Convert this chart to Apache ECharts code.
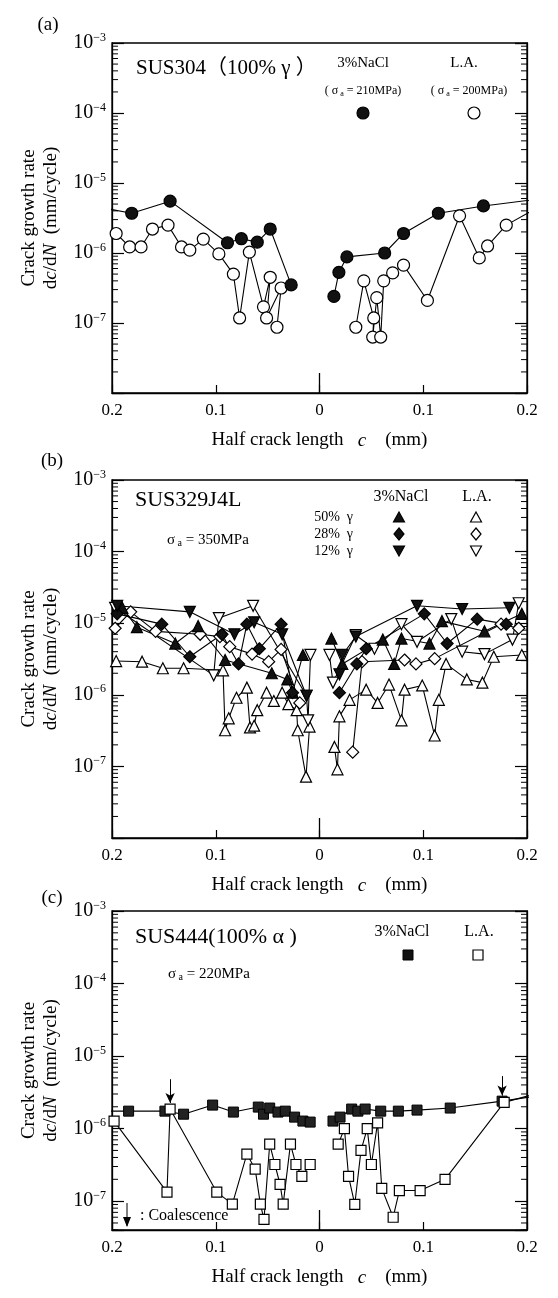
<!DOCTYPE html>
<html>
<head>
<meta charset="utf-8">
<script src="https://cdn.jsdelivr.net/npm/echarts@6/dist/echarts.min.js"></script>
<style>
html,body{margin:0;padding:0;background:#fff;}
#main{width:558px;height:1298px;}
</style>
</head>
<body>
<div id="main"></div>
<script>
// axes
const xMin = -0.2, xMax = 0.2, xStep = 0.1;
const yMax = 1e-3;
const yMins = [1e-8, 1e-8, 4e-8];
const minorDecades = [-8, -7, -6, -5, -4];
const minorMult = [2, 3, 4, 5, 6, 7, 8, 9];

// (a) SUS304 [c (mm, left negative), dc/dN]
const aNaclLeft = [[-0.215,4.6e-6],[-0.181,3.7e-6],[-0.144,5.5e-6],[-0.0887,1.4e-6],[-0.0753,1.6e-6],[-0.060,1.43e-6],[-0.0475,2.2e-6],[-0.0273,3.5e-7]];
const aLaLeft = [[-0.196,1.9e-6],[-0.183,1.22e-6],[-0.172,1.22e-6],[-0.161,2.2e-6],[-0.146,2.5e-6],[-0.133,1.22e-6],[-0.125,1.1e-6],[-0.112,1.58e-6],[-0.097,9.7e-7],[-0.083,5.0e-7],[-0.077,1.18e-7],[-0.0676,1.03e-6],[-0.054,1.7e-7],[-0.0475,4.5e-7],[-0.051,1.18e-7],[-0.037,3.16e-7],[-0.041,8.7e-8]];
const aNaclRight = [[0.0139,2.4e-7],[0.0187,5.3e-7],[0.0264,8.8e-7],[0.0628,1.0e-6],[0.081,1.9e-6],[0.1146,3.7e-6],[0.158,4.7e-6],[0.215,6.0e-6]];
const aLaRight = [[0.035,8.7e-8],[0.0427,4.0e-7],[0.0523,1.18e-7],[0.0513,6.3e-8],[0.0552,2.3e-7],[0.059,6.3e-8],[0.0619,4.0e-7],[0.0705,5.2e-7],[0.081,6.7e-7],[0.104,2.1e-7],[0.135,3.4e-6],[0.154,8.5e-7],[0.162,1.26e-6],[0.18,2.5e-6],[0.215,4.9e-6]];

// (b) SUS329J4L
const bNacl50L = [[-0.190,1.64e-5],[-0.176,8.8e-6],[-0.139,5.2e-6],[-0.117,9.1e-6],[-0.091,3.06e-6],[-0.046,2.0e-6],[-0.031,1.64e-6],[-0.026,1.07e-6],[-0.016,3.6e-6]];
const bNacl50R = [[0.0115,6.1e-6],[0.022,2.7e-6],[0.061,5.9e-6],[0.072,2.7e-6],[0.079,6.1e-6],[0.106,5.2e-6],[0.118,1.07e-5],[0.159,7.7e-6],[0.195,1.35e-5]];
const bNacl28L = [[-0.195,1.35e-5],[-0.152,9.7e-6],[-0.125,3.4e-6],[-0.094,7.0e-6],[-0.078,2.7e-6],[-0.070,9.7e-6],[-0.058,4.4e-6],[-0.037,9.7e-6],[-0.026,1.07e-6]];
const bNacl28R = [[0.0192,1.07e-6],[0.036,2.7e-6],[0.045,4.4e-6],[0.101,1.35e-5],[0.123,5.2e-6],[0.152,1.14e-5],[0.18,9.7e-6]];
const bNacl12L = [[-0.195,1.75e-5],[-0.125,1.44e-5],[-0.082,7.0e-6],[-0.063,1.03e-5],[-0.036,7.0e-6],[-0.0125,9.7e-7]];
const bNacl12R = [[0.0192,1.93e-6],[0.022,3.6e-6],[0.035,6.5e-6],[0.094,1.75e-5],[0.1375,1.58e-5],[0.183,1.64e-5]];
const bLa50L = [[-0.196,2.96e-6],[-0.171,2.9e-6],[-0.151,2.35e-6],[-0.131,2.35e-6],[-0.093,2.2e-6],[-0.091,3.2e-7],[-0.0875,4.7e-7],[-0.080,9.1e-7],[-0.070,1.26e-6],[-0.067,3.5e-7],[-0.063,3.7e-7],[-0.060,6.1e-7],[-0.051,1.07e-6],[-0.044,8.2e-7],[-0.036,1.07e-6],[-0.030,7.4e-7],[-0.022,6.1e-7],[-0.021,3.2e-7],[-0.013,7.2e-8],[-0.0096,3.6e-7]];
const bLa50R = [[0.0144,1.87e-7],[0.0173,9.1e-8],[0.0192,5.0e-7],[0.029,8.5e-7],[0.045,1.18e-6],[0.056,7.7e-7],[0.067,1.39e-6],[0.079,4.4e-7],[0.082,1.18e-6],[0.099,1.35e-6],[0.111,2.7e-7],[0.115,8.5e-7],[0.122,2.7e-6],[0.142,1.64e-6],[0.157,1.48e-6],[0.168,3.4e-6],[0.195,3.6e-6]];
const bLa28L = [[-0.197,8.5e-6],[-0.182,1.44e-5],[-0.158,7.7e-6],[-0.115,7.0e-6],[-0.096,6.5e-6],[-0.0865,4.7e-6],[-0.065,3.7e-6],[-0.049,2.9e-6],[-0.037,4.3e-6],[-0.019,7.7e-7]];
const bLa28R = [[0.032,1.58e-7],[0.041,2.9e-6],[0.082,3.06e-6],[0.093,2.7e-6],[0.111,3.2e-6],[0.175,9.7e-6],[0.192,8.5e-6]];
const bLa12L = [[-0.197,1.64e-5],[-0.102,1.87e-6],[-0.097,1.18e-5],[-0.064,1.75e-5],[-0.0125,9.7e-7],[-0.011,4.4e-7],[-0.0087,3.6e-6]];
const bLa12R = [[0.0096,3.6e-6],[0.013,1.48e-6],[0.035,6.8e-6],[0.053,4.4e-6],[0.079,9.7e-6],[0.094,5.5e-6],[0.127,1.14e-5],[0.1375,4.0e-6],[0.159,3.7e-6],[0.186,5.9e-6],[0.192,1.9e-5]];

// (c) SUS444
const cNaclLeft = [[-0.215,1.74e-6],[-0.184,1.74e-6],[-0.149,1.74e-6],[-0.131,1.58e-6],[-0.103,2.11e-6],[-0.083,1.69e-6],[-0.059,1.98e-6],[-0.054,1.58e-6],[-0.048,1.92e-6],[-0.040,1.69e-6],[-0.033,1.74e-6],[-0.024,1.44e-6],[-0.016,1.27e-6],[-0.009,1.23e-6]];
const cNaclRight = [[0.013,1.27e-6],[0.0198,1.44e-6],[0.031,1.86e-6],[0.037,1.74e-6],[0.044,1.86e-6],[0.059,1.74e-6],[0.076,1.74e-6],[0.094,1.8e-6],[0.126,1.92e-6],[0.176,2.39e-6],[0.215,2.9e-6]];
const cLaLeft = [[-0.198,1.27e-6],[-0.147,1.33e-7],[-0.144,1.86e-6],[-0.099,1.33e-7],[-0.084,9.1e-8],[-0.070,4.45e-7],[-0.062,2.76e-7],[-0.057,9.1e-8],[-0.0535,5.6e-8],[-0.048,6.1e-7],[-0.043,3.2e-7],[-0.038,1.7e-7],[-0.035,9.1e-8],[-0.028,6.1e-7],[-0.0227,3.2e-7],[-0.017,2.2e-7],[-0.009,3.2e-7]];
const cLaRight = [[0.018,6.1e-7],[0.024,1.0e-6],[0.028,2.2e-7],[0.034,9.0e-8],[0.040,5.0e-7],[0.046,1.0e-6],[0.050,3.2e-7],[0.056,1.2e-6],[0.060,1.5e-7],[0.071,6.0e-8],[0.077,1.4e-7],[0.097,1.4e-7],[0.121,2.0e-7],[0.178,2.3e-6],[0.215,3.2e-6]];
const cArrows = [[-0.144, 4.8e-6, 2.25e-6], [0.176, 5.3e-6, 2.85e-6]];

const serif = '"Liberation Serif", "Noto Sans CJK SC", serif';
const grids = [
  {left: 112, top: 43, width: 415, height: 350},
  {left: 112, top: 480, width: 415, height: 358},
  {left: 112, top: 911, width: 415, height: 319}
];

function xAxisOf(i) {
  return {
    type: 'value', gridIndex: i, min: xMin, max: xMax, interval: xStep,
    name: '{t|Half crack length}{i|   c}{t|    (mm)}',
    nameLocation: 'middle', nameGap: 38,
    nameTextStyle: {rich: {t: {fontFamily: serif, fontSize: 19, color: '#000'}, i: {fontFamily: serif, fontSize: 19, fontStyle: 'italic', color: '#000'}}},
    axisLine: {show: true, onZero: false, lineStyle: {color: '#000', width: 1.3}},
    axisTick: {show: true, inside: true, length: 8, lineStyle: {color: '#000', width: 1.2}},
    axisLabel: {fontFamily: serif, fontSize: 17, color: '#000', margin: 9,
      formatter: v => (Math.abs(v) < 1e-9 ? '0' : String(Math.round(Math.abs(v) * 10) / 10))},
    splitLine: {show: false}
  };
}
function yAxisOf(i, right) {
  return {
    type: 'log', logBase: 10, gridIndex: i, min: yMins[i], max: yMax, position: right ? 'right' : 'left',
    name: right ? '' : '{t|Crack growth rate}\n{t|d}{i|c}{t|/d}{i|N}{t|  (mm/cycle)}',
    nameLocation: 'middle', nameGap: 50, nameRotate: 90,
    nameTextStyle: {lineHeight: 22, rich: {t: {fontFamily: serif, fontSize: 19, color: '#000', lineHeight: 22}, i: {fontFamily: serif, fontSize: 19, fontStyle: 'italic', color: '#000', lineHeight: 22}}},
    axisLine: {show: true, onZero: false, lineStyle: {color: '#000', width: 1.3}},
    axisTick: {show: true, inside: true, length: 12, lineStyle: {color: '#000', width: 1.2}},
    axisLabel: {show: !right, margin: 6, color: '#000',
      formatter: v => { const l = Math.log10(v); const p = Math.round(l); return (Math.abs(l - p) > 1e-6 || p <= -8) ? '' : '{b|10}{s|\u2212' + (-p) + '}'; },
      rich: {b: {fontFamily: serif, fontSize: 20, color: '#000'}, s: {fontFamily: serif, fontSize: 12, color: '#000', padding: [0, 0, 11, 0]}}},
    splitLine: {show: false}
  };
}
function lineSeries(i, data, symbol, filled, extra) {
  return Object.assign({
    type: 'line', xAxisIndex: i, yAxisIndex: i * 2, data: data, clip: true,
    symbol: symbol, symbolSize: 11, showSymbol: true,
    lineStyle: {color: '#000', width: 1.1},
    itemStyle: {color: filled ? '#111' : '#fff', borderColor: '#000', borderWidth: 1.2},
    emphasis: {disabled: true}, animation: false
  }, extra || {});
}
function minorTicks(i) {
  return {
    type: 'custom', xAxisIndex: i, yAxisIndex: i * 2, data: [[0, 1e-5]], silent: true, animation: false,
    renderItem: function (params, api) {
      const cs = params.coordSys;
      const kids = [];
      minorDecades.forEach(d => minorMult.forEach(m => {
        const v = m * Math.pow(10, d);
        if (v < yMins[i]) return;
        const y = api.coord([0, v])[1];
        kids.push({type: 'line', shape: {x1: cs.x, y1: y, x2: cs.x + 6, y2: y}, style: {stroke: '#000', lineWidth: 1}});
        kids.push({type: 'line', shape: {x1: cs.x + cs.width, y1: y, x2: cs.x + cs.width - 6, y2: y}, style: {stroke: '#000', lineWidth: 1}});
      }));
      // long centre tick at c = 0
      const b = api.coord([0, yMins[i]]);
      kids.push({type: 'line', shape: {x1: b[0], y1: b[1], x2: b[0], y2: b[1] - 20}, style: {stroke: '#000', lineWidth: 1.3}});
      return {type: 'group', children: kids};
    }
  };
}

const sqFill = {color: '#222', borderColor: '#000', borderWidth: 1};
const series = [
  minorTicks(0), minorTicks(1), minorTicks(2),
  lineSeries(0, aLaLeft, 'circle', false, {symbolSize: 12}), lineSeries(0, aLaRight, 'circle', false, {symbolSize: 12}),
  lineSeries(0, aNaclLeft, 'circle', true, {symbolSize: 12}), lineSeries(0, aNaclRight, 'circle', true, {symbolSize: 12}),

  lineSeries(1, bLa50L, 'triangle', false), lineSeries(1, bLa50R, 'triangle', false),
  lineSeries(1, bLa28L, 'diamond', false, {symbolSize: 12}), lineSeries(1, bLa28R, 'diamond', false, {symbolSize: 12}),
  lineSeries(1, bLa12L, 'triangle', false, {symbolRotate: 180}), lineSeries(1, bLa12R, 'triangle', false, {symbolRotate: 180}),
  lineSeries(1, bNacl50L, 'triangle', true), lineSeries(1, bNacl50R, 'triangle', true),
  lineSeries(1, bNacl28L, 'diamond', true, {symbolSize: 12}), lineSeries(1, bNacl28R, 'diamond', true, {symbolSize: 12}),
  lineSeries(1, bNacl12L, 'triangle', true, {symbolRotate: 180}), lineSeries(1, bNacl12R, 'triangle', true, {symbolRotate: 180}),

  lineSeries(2, cNaclLeft, 'rect', true, {symbolSize: 10, itemStyle: sqFill}),
  lineSeries(2, cNaclRight, 'rect', true, {symbolSize: 10, itemStyle: sqFill}),
  lineSeries(2, cLaLeft, 'rect', false, {symbolSize: 10}),
  lineSeries(2, cLaRight, 'rect', false, {symbolSize: 10,
    markLine: {silent: true, symbol: ['none', 'arrow'], symbolSize: [7, 10], label: {show: false},
      lineStyle: {color: '#000', width: 1, type: 'solid'}, animation: false,
      data: cArrows.map(a => [{coord: [a[0], a[1]]}, {coord: [a[0], a[2]]}])}})
];

function txt(x, y, text, size, align, rich) {
  return {type: 'text', x: x, y: y, z: 100, style: {text: text, font: size + 'px ' + serif, fill: '#000',
    textAlign: align || 'left', textVerticalAlign: 'middle', rich: rich}};
}
const subRich = {g: {fontFamily: serif, fontSize: 15, fill: '#000'}, s: {fontFamily: serif, fontSize: 10, fill: '#000', padding: [7, 0, 0, 0]}};
const subRichSm = {g: {fontFamily: serif, fontSize: 12, fill: '#000'}, s: {fontFamily: serif, fontSize: 8, fill: '#000', padding: [6, 0, 0, 0]}};

const graphic = [
  txt(48, 25, '(a)', 19, 'center'), txt(52, 461, '(b)', 19, 'center'), txt(52, 898, '(c)', 19, 'center'),
  // (a)
  txt(136, 68, 'SUS304（100% γ ）', 21),
  txt(363, 63, '3%NaCl', 15, 'center'), txt(464, 63, 'L.A.', 15, 'center'),
  txt(363, 91, '{g|( σ}{s| a}{g| = 210MPa)}', 12, 'center', subRichSm),
  txt(469, 91, '{g|( σ}{s| a}{g| = 200MPa)}', 12, 'center', subRichSm),
  {type: 'circle', z: 100, shape: {cx: 363, cy: 113, r: 6}, style: {fill: '#111', stroke: '#000', lineWidth: 1.2}},
  {type: 'circle', z: 100, shape: {cx: 474, cy: 113, r: 6}, style: {fill: '#fff', stroke: '#000', lineWidth: 1.2}},
  // (b)
  txt(135, 500, 'SUS329J4L', 22),
  txt(167, 540, '{g|σ}{s| a}{g| = 350MPa}', 15, 'left', subRich),
  txt(401, 497, '3%NaCl', 16, 'center'), txt(477, 497, 'L.A.', 16, 'center'),
  txt(353, 517, '50%  γ', 14, 'right'), txt(353, 534, '28%  γ', 14, 'right'), txt(353, 551, '12%  γ', 14, 'right'),
  // (c)
  txt(135, 937, 'SUS444(100% α )', 22),
  txt(168, 974, '{g|σ}{s| a}{g| = 220MPa}', 15, 'left', subRich),
  txt(402, 932, '3%NaCl', 16, 'center'), txt(479, 932, 'L.A.', 16, 'center'),
  {type: 'rect', z: 100, shape: {x: 403, y: 950, width: 10, height: 10}, style: {fill: '#111', stroke: '#000', lineWidth: 1}},
  {type: 'rect', z: 100, shape: {x: 473, y: 950, width: 10, height: 10}, style: {fill: '#fff', stroke: '#000', lineWidth: 1.2}},
  txt(140, 1216, ': Coalescence', 16),
  {type: 'line', z: 100, shape: {x1: 127, y1: 1203, x2: 127, y2: 1226}, style: {stroke: '#000', lineWidth: 1}},
  {type: 'polygon', z: 100, shape: {points: [[123, 1217], [131, 1217], [127, 1227]]}, style: {fill: '#000'}}
];
// legend markers for (b)
const bLegendSyms = [
  [399, 517, 'triangle', true, 0], [399, 534, 'diamond', true, 0], [399, 551, 'triangle', true, 180],
  [476, 517, 'triangle', false, 0], [476, 534, 'diamond', false, 0], [476, 551, 'triangle', false, 180]
];
bLegendSyms.forEach(s => {
  let pts;
  if (s[2] === 'diamond') pts = [[s[0], s[1] - 6], [s[0] + 5, s[1]], [s[0], s[1] + 6], [s[0] - 5, s[1]]];
  else if (s[4] === 0) pts = [[s[0], s[1] - 5], [s[0] + 5.5, s[1] + 5], [s[0] - 5.5, s[1] + 5]];
  else pts = [[s[0], s[1] + 5], [s[0] + 5.5, s[1] - 5], [s[0] - 5.5, s[1] - 5]];
  graphic.push({type: 'polygon', z: 100, shape: {points: pts}, style: {fill: s[3] ? '#111' : '#fff', stroke: '#000', lineWidth: 1.2}});
});

const chart = echarts.init(document.getElementById('main'), null, {renderer: 'canvas'});
chart.setOption({
  backgroundColor: '#fff',
  animation: false,
  grid: grids.map(g => Object.assign({show: true, borderColor: '#000', borderWidth: 1.3, backgroundColor: 'transparent'}, g)),
  xAxis: [xAxisOf(0), xAxisOf(1), xAxisOf(2)],
  yAxis: [yAxisOf(0, false), yAxisOf(0, true), yAxisOf(1, false), yAxisOf(1, true), yAxisOf(2, false), yAxisOf(2, true)],
  series: series,
  graphic: graphic
});
</script>
</body>
</html>
